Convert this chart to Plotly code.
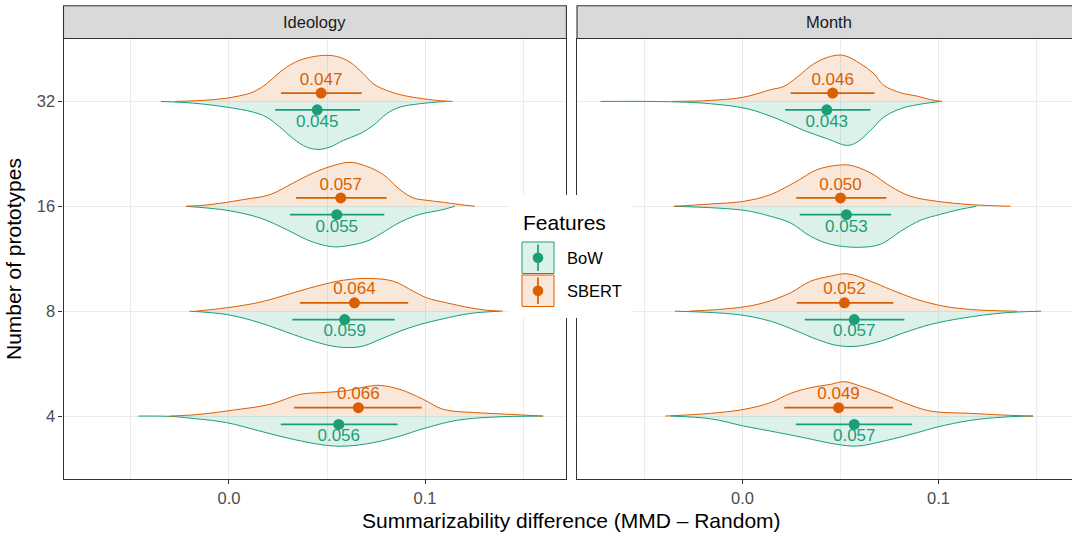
import plotly.graph_objects as go

# ---- data -------------------------------------------------------------
facets = ["Ideology", "Month"]
levels = ["4", "8", "16", "32"]
features = ["BoW", "SBERT"]

# point-range summaries per level (4, 8, 16, 32)
ideo_bow_mean = [0.056, 0.059, 0.055, 0.045]
ideo_bow_lo = [0.0264, 0.0323, 0.0311, 0.0236]
ideo_bow_hi = [0.0860, 0.0845, 0.0792, 0.0668]
ideo_sbert_mean = [0.066, 0.064, 0.057, 0.047]
ideo_sbert_lo = [0.0331, 0.0362, 0.0342, 0.0265]
ideo_sbert_hi = [0.0983, 0.0914, 0.0804, 0.0677]
month_bow_mean = [0.057, 0.057, 0.053, 0.043]
month_bow_lo = [0.0272, 0.0318, 0.0292, 0.0218]
month_bow_hi = [0.0865, 0.0826, 0.0758, 0.0653]
month_sbert_mean = [0.049, 0.052, 0.050, 0.046]
month_sbert_lo = [0.0213, 0.0277, 0.0274, 0.0246]
month_sbert_hi = [0.0768, 0.0770, 0.0734, 0.0673]

# density outlines (x grid, density) for each half violin
ideo4_bow_x = [-0.0463, -0.0300, -0.0216, -0.0012, 0.0158, 0.0328, 0.0498, 0.0600, 0.0736, 0.0872, 0.0991, 0.1161, 0.1348, 0.1603]
ideo4_bow_d = [0, 0.3, 1.7, 6.6, 15, 23.3, 29.3, 30, 26.6, 20, 12.6, 4.3, 1, 0]
ideo4_sbert_x = [-0.0301, -0.0148, 0.0022, 0.0209, 0.0362, 0.0464, 0.0583, 0.0719, 0.0770, 0.0872, 0.0991, 0.1093, 0.1263, 0.1433, 0.1600]
ideo4_sbert_d = [0, 1.7, 6, 11.7, 21.7, 23.4, 25, 30, 30.7, 26.7, 16.7, 6.7, 3.4, 1.7, 0]
ideo8_bow_x = [-0.0202, -0.0012, 0.0158, 0.0328, 0.0430, 0.0549, 0.0668, 0.0770, 0.0872, 0.0974, 0.1093, 0.1229, 0.1382]
ideo8_bow_d = [0, 3.3, 11.6, 23.3, 30, 35.6, 35.6, 28.3, 20, 13.3, 7.6, 2.3, 0]
ideo8_sbert_x = [-0.0168, -0.0012, 0.0158, 0.0328, 0.0447, 0.0583, 0.0719, 0.0838, 0.0940, 0.1008, 0.1110, 0.1229, 0.1314, 0.1396]
ideo8_sbert_d = [0, 3.4, 9, 18.4, 25, 31, 32.7, 30, 20, 13.4, 8.4, 3.4, 1, 0]
ideo16_bow_x = [-0.0219, -0.0012, 0.0158, 0.0294, 0.0396, 0.0464, 0.0541, 0.0617, 0.0702, 0.0770, 0.0872, 0.0974, 0.1076, 0.1152]
ideo16_bow_d = [0, 4, 11.6, 23.3, 33.3, 38, 40.6, 39, 35, 28, 16, 8, 4, 0]
ideo16_sbert_x = [-0.0219, -0.0097, 0.0073, 0.0209, 0.0328, 0.0430, 0.0532, 0.0617, 0.0702, 0.0787, 0.0872, 0.0940, 0.1008, 0.1093, 0.1178, 0.1254]
ideo16_sbert_d = [0, 1.7, 6.7, 11.7, 23.4, 33.4, 40.7, 44, 40, 31.7, 16.7, 8.4, 6, 4, 1.7, 0]
ideo32_bow_x = [-0.0347, -0.0182, -0.0012, 0.0124, 0.0192, 0.0260, 0.0328, 0.0396, 0.0455, 0.0515, 0.0583, 0.0668, 0.0736, 0.0804, 0.0872, 0.0974, 0.1110]
ideo32_bow_d = [0, 1.7, 5.7, 10.7, 15.7, 25.7, 37.3, 45.7, 48, 45.7, 39, 32.3, 24, 12.3, 5.7, 2.3, 0]
ideo32_sbert_x = [-0.0275, -0.0097, 0.0020, 0.0122, 0.0192, 0.0260, 0.0328, 0.0396, 0.0481, 0.0549, 0.0617, 0.0685, 0.0736, 0.0804, 0.0889, 0.0991, 0.1076, 0.1141]
ideo32_sbert_d = [0, 1.5, 4.3, 9.3, 17.7, 29.3, 38.3, 43.3, 46, 45, 39.3, 27.7, 17.7, 11, 6, 2.7, 0.7, 0]

month4_bow_x = [-0.0367, -0.0163, 0.0007, 0.0143, 0.0313, 0.0483, 0.0585, 0.0721, 0.0891, 0.0993, 0.1163, 0.1332, 0.1482]
month4_bow_d = [0, 2.7, 10, 15, 21.6, 28.3, 30, 25, 16.6, 11, 4.3, 1, 0]
month4_sbert_x = [-0.0393, -0.0163, 0.0007, 0.0143, 0.0245, 0.0347, 0.0449, 0.0517, 0.0602, 0.0721, 0.0823, 0.0959, 0.1163, 0.1332, 0.1482]
month4_sbert_d = [0, 2.7, 6.7, 13.4, 22.7, 28.4, 31.7, 34.4, 30, 21.7, 13.4, 5, 2.7, 1, 0]
month8_bow_x = [-0.0345, -0.0027, 0.0143, 0.0279, 0.0381, 0.0483, 0.0585, 0.0704, 0.0823, 0.0959, 0.1129, 0.1332, 0.1523]
month8_bow_d = [0, 3.3, 10, 20, 28.3, 34.3, 35, 30, 21.6, 13.3, 6.7, 1.7, 0]
month8_sbert_x = [-0.0269, -0.0027, 0.0109, 0.0245, 0.0347, 0.0449, 0.0534, 0.0653, 0.0755, 0.0891, 0.1027, 0.1163, 0.1401]
month8_sbert_d = [0, 3.4, 8.4, 18.4, 30, 35, 37.4, 30, 21.7, 11.7, 5, 1.7, 0]
month16_bow_x = [-0.0350, 0.0007, 0.0143, 0.0245, 0.0347, 0.0449, 0.0585, 0.0704, 0.0806, 0.0908, 0.1010, 0.1112, 0.1193]
month16_bow_d = [0, 4, 10, 16.6, 30, 38, 41, 38, 25, 14, 8, 3, 0]
month16_sbert_x = [-0.0350, -0.0163, 0.0007, 0.0143, 0.0262, 0.0381, 0.0483, 0.0551, 0.0653, 0.0755, 0.0857, 0.0993, 0.1163, 0.1367]
month16_sbert_d = [0, 2.3, 5, 11.7, 23.4, 36.7, 41, 41, 33.4, 20, 10, 5, 1.7, 0]
month32_bow_x = [-0.0724, -0.0367, -0.0163, 0.0024, 0.0177, 0.0313, 0.0432, 0.0534, 0.0585, 0.0653, 0.0721, 0.0806, 0.0891, 0.1010]
month32_bow_d = [0, 0.3, 2.3, 7.3, 17.3, 29, 37.3, 44, 40.7, 29, 15.7, 7.3, 3.3, 0]
month32_sbert_x = [-0.0358, -0.0163, 0.0007, 0.0143, 0.0211, 0.0279, 0.0364, 0.0449, 0.0517, 0.0602, 0.0670, 0.0721, 0.0806, 0.0891, 0.0959, 0.1018]
month32_sbert_d = [0, 1, 4.3, 11.7, 15, 24.3, 37.7, 45, 46, 37.7, 27.7, 16, 8.7, 5.3, 1.7, 0]

# ---- styling ----------------------------------------------------------
W, H = 1072, 534
FONT = "Liberation Sans, Arial, Helvetica, sans-serif"
COLORS = {"BoW": "#1B9E77", "SBERT": "#D95F02"}
FILLS = {"BoW": "rgba(27,158,119,0.15)", "SBERT": "rgba(217,95,2,0.15)"}
SIDE = {"BoW": -1, "SBERT": 1}
DENSITY_SCALE = 1 / 104.9      # density units -> category units
POINT_NUDGE = 0.08
LABEL_NUDGE = 0.2
SMALL = 16.5   # tick, strip and legend-key text
LARGE = 21     # axis and legend titles


def px(x):
    return x / W


def py(y):
    return 1 - y / H


summary = {
    ("Ideology", "BoW"): (ideo_bow_mean, ideo_bow_lo, ideo_bow_hi),
    ("Ideology", "SBERT"): (ideo_sbert_mean, ideo_sbert_lo, ideo_sbert_hi),
    ("Month", "BoW"): (month_bow_mean, month_bow_lo, month_bow_hi),
    ("Month", "SBERT"): (month_sbert_mean, month_sbert_lo, month_sbert_hi),
}
outlines = {
    ("Ideology", "4"): {"BoW": (ideo4_bow_x, ideo4_bow_d), "SBERT": (ideo4_sbert_x, ideo4_sbert_d)},
    ("Ideology", "8"): {"BoW": (ideo8_bow_x, ideo8_bow_d), "SBERT": (ideo8_sbert_x, ideo8_sbert_d)},
    ("Ideology", "16"): {"BoW": (ideo16_bow_x, ideo16_bow_d), "SBERT": (ideo16_sbert_x, ideo16_sbert_d)},
    ("Ideology", "32"): {"BoW": (ideo32_bow_x, ideo32_bow_d), "SBERT": (ideo32_sbert_x, ideo32_sbert_d)},
    ("Month", "4"): {"BoW": (month4_bow_x, month4_bow_d), "SBERT": (month4_sbert_x, month4_sbert_d)},
    ("Month", "8"): {"BoW": (month8_bow_x, month8_bow_d), "SBERT": (month8_sbert_x, month8_sbert_d)},
    ("Month", "16"): {"BoW": (month16_bow_x, month16_bow_d), "SBERT": (month16_sbert_x, month16_sbert_d)},
    ("Month", "32"): {"BoW": (month32_bow_x, month32_bow_d), "SBERT": (month32_sbert_x, month32_sbert_d)},
}

fig = go.Figure()
axes = {"Ideology": ("x", "y"), "Month": ("x2", "y2")}

# split violins
for facet in facets:
    xa, ya = axes[facet]
    for i, lev in enumerate(levels):
        pos = i + 1
        for feat in features:
            xs, ds = outlines[(facet, lev)][feat]
            ys = [pos + SIDE[feat] * d * DENSITY_SCALE for d in ds]
            fig.add_trace(go.Scatter(
                x=xs, y=ys, mode="lines", fill="toself", fillcolor=FILLS[feat],
                line=dict(color=COLORS[feat], width=1.0, shape="spline", smoothing=1.0),
                xaxis=xa, yaxis=ya, hoverinfo="skip", showlegend=False))

# point ranges and value labels
for facet in facets:
    xa, ya = axes[facet]
    for feat in features:
        mean, lo, hi = summary[(facet, feat)]
        ypos = [i + 1 + SIDE[feat] * POINT_NUDGE for i in range(len(levels))]
        fig.add_trace(go.Scatter(
            x=mean, y=ypos, mode="markers",
            marker=dict(color=COLORS[feat], size=11),
            error_x=dict(type="data", symmetric=False,
                         array=[h - m for h, m in zip(hi, mean)],
                         arrayminus=[m - l for m, l in zip(mean, lo)],
                         width=0, thickness=1.7, color=COLORS[feat]),
            xaxis=xa, yaxis=ya, hoverinfo="skip", showlegend=False))
        fig.add_trace(go.Scatter(
            x=mean, y=[i + 1 + SIDE[feat] * LABEL_NUDGE for i in range(len(levels))],
            mode="text", text=[f"{m:.3f}" for m in mean],
            textfont=dict(family=FONT, size=17, color=COLORS[feat]),
            xaxis=xa, yaxis=ya, hoverinfo="skip", showlegend=False))

# ---- axes -------------------------------------------------------------
LEFT = (63.5, 566.4)
RIGHT = (577.0, 1080.0)
PANEL_Y = (38.5, 479.0)
X0 = -0.0844
PX_PER_UNIT = (LEFT[1] - LEFT[0]) / 0.2565

xcommon = dict(
    tick0=0, dtick=0.1, tickformat=".1f", showgrid=True, gridcolor="#EBEBEB", gridwidth=1.1,
    minor=dict(dtick=0.05, tick0=0, showgrid=True, gridcolor="#EBEBEB", gridwidth=0.55),
    zeroline=False, showline=True, linecolor="#333333", linewidth=1.1, mirror=True,
    ticks="outside", ticklen=4, tickwidth=1.1, tickcolor="#333333",
    tickfont=dict(family=FONT, size=SMALL, color="#4D4D4D"),
)
ycommon = dict(
    range=[0.4, 4.6], tickvals=[1, 2, 3, 4], ticktext=levels, showgrid=True,
    gridcolor="#EBEBEB", gridwidth=1.1, zeroline=False, showline=True,
    linecolor="#333333", linewidth=1.1,
    domain=[py(PANEL_Y[1]), py(PANEL_Y[0])],
)

fig.update_layout(
    width=W, height=H, margin=dict(l=0, r=0, t=0, b=0),
    paper_bgcolor="white", plot_bgcolor="white", showlegend=False,
    font=dict(family=FONT),
    xaxis=dict(xcommon, domain=[px(LEFT[0]), px(LEFT[1])], range=[X0, 0.1721], anchor="y"),
    xaxis2=dict(xcommon, domain=[px(RIGHT[0]), 1.0],
                range=[X0, X0 + (W - RIGHT[0]) / PX_PER_UNIT], anchor="y2"),
    yaxis=dict(ycommon, anchor="x", mirror=True, ticks="outside", ticklen=4, tickwidth=1.1,
               tickcolor="#333333", tickfont=dict(family=FONT, size=SMALL, color="#4D4D4D")),
    yaxis2=dict(ycommon, anchor="x2", showticklabels=False, ticks=""),
)

shapes = []
annotations = []

# facet strips
for facet, (a, b) in zip(facets, [LEFT, RIGHT]):
    shapes.append(dict(type="rect", xref="paper", yref="paper",
                       x0=px(a), x1=px(b), y0=py(PANEL_Y[0]), y1=py(5.7),
                       fillcolor="#D9D9D9", line=dict(color="#333333", width=1.1), layer="above"))
    annotations.append(dict(text=facet, xref="paper", yref="paper", x=px((a + b) / 2), y=py(22),
                            showarrow=False, xanchor="center", yanchor="middle",
                            font=dict(family=FONT, size=SMALL, color="#1A1A1A")))

# axis titles
annotations.append(dict(text="Summarizability difference (MMD \u2013 Random)", xref="paper", yref="paper",
                        x=px(571), y=py(520), showarrow=False, xanchor="center", yanchor="middle",
                        font=dict(family=FONT, size=LARGE, color="black")))
annotations.append(dict(text="Number of prototypes", xref="paper", yref="paper",
                        x=px(13), y=py(259), showarrow=False, textangle=-90,
                        xanchor="center", yanchor="middle",
                        font=dict(family=FONT, size=LARGE, color="black")))

# legend box
shapes.append(dict(type="rect", xref="paper", yref="paper", x0=px(510), x1=px(633),
                   y0=py(318), y1=py(195), fillcolor="white", line=dict(width=0), layer="above"))
annotations.append(dict(text="Features", xref="paper", yref="paper", x=px(521), y=py(222),
                        showarrow=False, xanchor="left", yanchor="middle",
                        font=dict(family=FONT, size=LARGE, color="black")))
for feat, (top, bot) in zip(features, [(242, 273.5), (275, 306.5)]):
    cy = (top + bot) / 2
    shapes.append(dict(type="rect", xref="paper", yref="paper", x0=px(522), x1=px(554),
                       y0=py(bot), y1=py(top), fillcolor=FILLS[feat],
                       line=dict(color=COLORS[feat], width=1.0), layer="above"))
    shapes.append(dict(type="line", xref="paper", yref="paper", x0=px(538), x1=px(538),
                       y0=py(bot - 2.5), y1=py(top + 2.5),
                       line=dict(color=COLORS[feat], width=1.7), layer="above"))
    shapes.append(dict(type="circle", xref="paper", yref="paper", x0=px(538 - 5.3), x1=px(538 + 5.3),
                       y0=py(cy + 5.3), y1=py(cy - 5.3), fillcolor=COLORS[feat],
                       line=dict(width=0), layer="above"))
    annotations.append(dict(text=feat, xref="paper", yref="paper", x=px(565), y=py(cy),
                            showarrow=False, xanchor="left", yanchor="middle",
                            font=dict(family=FONT, size=SMALL, color="black")))

fig.update_layout(shapes=shapes, annotations=annotations)
fig.write_html("out.html")
